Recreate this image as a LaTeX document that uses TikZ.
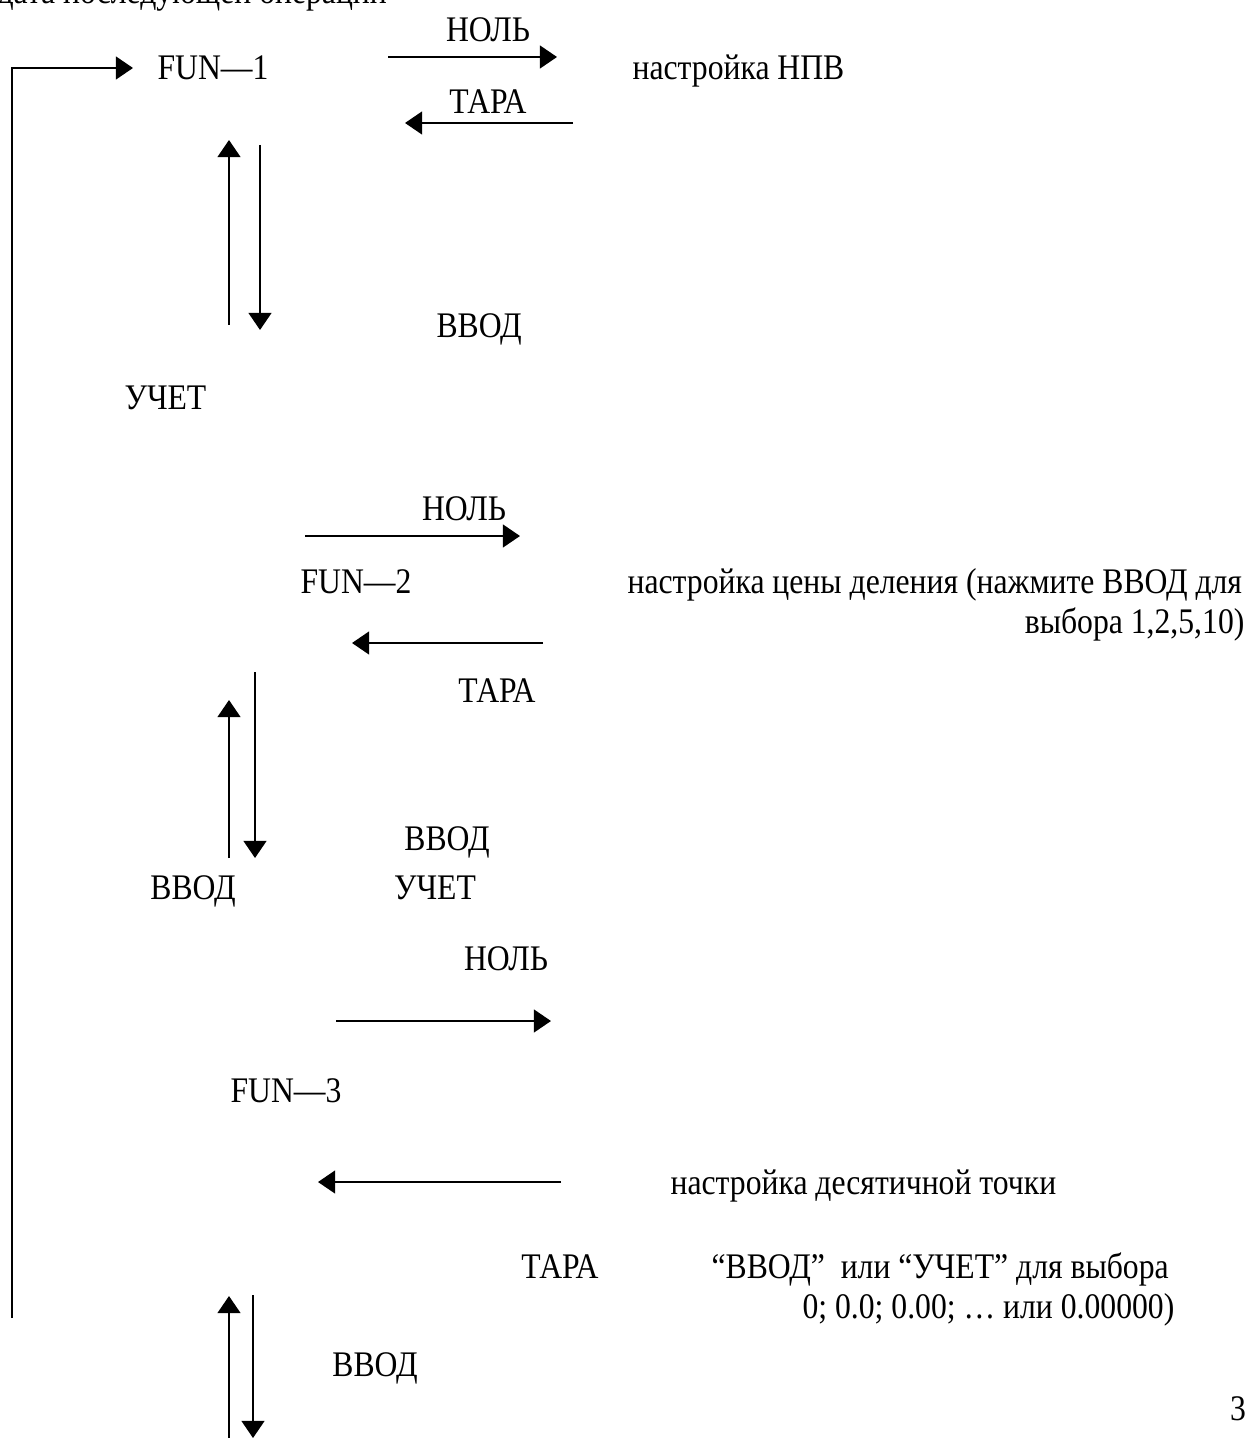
\documentclass[tikz,border=0pt]{standalone}
\usepackage{fontspec}
\setmainfont{Liberation Serif}[FakeStretch=0.88]
\usetikzlibrary{arrows.meta}

\tikzset{
  lbl/.style={inner sep=0pt, anchor=base west},
  lblc/.style={inner sep=0pt, anchor=base},
  lble/.style={inner sep=0pt, anchor=base east},
  flow/.style={-{Triangle[length=5.7pt,width=7.6pt]}, line width=0.65pt},
}

\begin{document}
\begin{tikzpicture}[x=0.3333pt, y=-0.3333pt, font=\fontsize{12pt}{14pt}\selectfont]
  \useasboundingbox (0,0) rectangle (1251,1438);

  % line cut by the page top
  \node[lbl] (head) at (-3,4) {дата последующей операции};

  % FUN-1
  \node[lbl]  (fun1)   at (157,80)  {FUN—1};
  \node[lblc] (nol1)   at (488,42)  {НОЛЬ};
  \node[lbl]  (npv)    at (632,80)  {настройка НПВ};
  \node[lblc] (tara1)  at (488,114) {ТАРА};
  \node[lbl]  (vvod1)  at (436,338) {ВВОД};
  \node[lbl]  (uchet1) at (124,410) {УЧЕТ};

  \coordinate (n1s) at (388,57);  \coordinate (n1e) at (557,57);
  \coordinate (t1s) at (573,123); \coordinate (t1e) at (405,123);
  \coordinate (u1s) at (229,325); \coordinate (u1e) at (229,140);
  \coordinate (d1s) at (260,145); \coordinate (d1e) at (260,330);
  \draw[flow] (n1s) -- (n1e);
  \draw[flow] (t1s) -- (t1e);
  \draw[flow] (u1s) -- (u1e);
  \draw[flow] (d1s) -- (d1e);

  % FUN-2
  \node[lblc] (nol2)   at (464,520) {НОЛЬ};
  \node[lbl]  (fun2)   at (300,593) {FUN—2};
  \node[lbl]  (cena)   at (627,593) {настройка цены деления (нажмите ВВОД для};
  \node[lble] (cena2)  at (1245,633) {выбора 1,2,5,10)};
  \node[lblc] (tara2)  at (497,702) {ТАРА};
  \node[lblc] (vvod2)  at (447,850) {ВВОД};
  \node[lblc] (vvod3)  at (193,899) {ВВОД};
  \node[lblc] (uchet2) at (435,899) {УЧЕТ};

  \coordinate (n2s) at (305,536); \coordinate (n2e) at (520,536);
  \coordinate (t2s) at (543,643); \coordinate (t2e) at (352,643);
  \coordinate (u2s) at (229,858); \coordinate (u2e) at (229,700);
  \coordinate (d2s) at (255,672); \coordinate (d2e) at (255,858);
  \draw[flow] (n2s) -- (n2e);
  \draw[flow] (t2s) -- (t2e);
  \draw[flow] (u2s) -- (u2e);
  \draw[flow] (d2s) -- (d2e);

  % FUN-3
  \node[lblc] (nol3)   at (506,970)  {НОЛЬ};
  \node[lbl]  (fun3)   at (230,1102) {FUN—3};
  \node[lbl]  (tochka) at (670,1194) {настройка десятичной точки};
  \node[lblc] (tara3)  at (560,1278) {ТАРА};
  \node[lbl]  (vybor)  at (711,1278) {“ВВОД”\ \ или “УЧЕТ” для выбора};
  \node[lble] (vybor2) at (1175,1318) {0; 0.0; 0.00; … или 0.00000)};
  \node[lblc] (vvod4)  at (375,1376) {ВВОД};
  \node[lblc] (page)   at (1238,1420) {3};

  \coordinate (n3s) at (336,1021); \coordinate (n3e) at (551,1021);
  \coordinate (t3s) at (561,1182); \coordinate (t3e) at (318,1182);
  \coordinate (u3s) at (229,1445); \coordinate (u3e) at (229,1296);
  \coordinate (d3s) at (253,1295); \coordinate (d3e) at (253,1438);
  \draw[flow] (n3s) -- (n3e);
  \draw[flow] (t3s) -- (t3e);
  \draw[flow] (u3s) -- (u3e);
  \draw[flow] (d3s) -- (d3e);

  % return line
  \coordinate (lpB) at (12,1318);
  \coordinate (lpT) at (12,68);
  \coordinate (lpE) at (133,68);
  \draw[flow] (lpB) -- (lpT) -- (lpE);
\end{tikzpicture}
\end{document}
